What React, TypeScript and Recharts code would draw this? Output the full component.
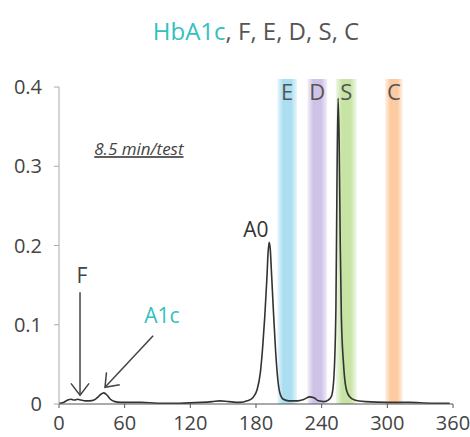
import React from "react";
import {
  LineChart, Line, XAxis, YAxis, ReferenceArea, ReferenceLine, ReferenceDot,
} from "recharts";

// retention time (s) and absorbance
const times = [
  0, 4, 8, 11, 14, 17, 20, 24, 28, 32, 35, 38, 41, 44, 47, 51, 56, 65, 75, 90,
  110, 130, 140, 147, 155, 165, 172, 177, 181, 184, 186, 188, 190, 191, 192, 193,
  194, 196, 198, 200, 202, 205, 210, 218, 224, 229, 233, 237, 242, 246, 249, 251,
  253, 254, 255, 256, 257, 258, 260, 262, 265, 270, 280, 300, 320, 340, 357,
];
const absorbance = [
  0.001, 0.002, 0.005, 0.006, 0.005, 0.006, 0.005, 0.004, 0.004, 0.005, 0.008, 0.012, 0.014, 0.011, 0.006, 0.003, 0.002, 0.002, 0.002, 0.001,
  0.001, 0.002, 0.003, 0.004, 0.003, 0.002, 0.004, 0.008, 0.018, 0.04, 0.07, 0.11, 0.16, 0.19, 0.204, 0.196,
  0.17, 0.115, 0.065, 0.03, 0.013, 0.006, 0.004, 0.004, 0.006, 0.009, 0.008, 0.004, 0.003, 0.005, 0.01, 0.03,
  0.12, 0.28, 0.386, 0.33, 0.2, 0.11, 0.05, 0.022, 0.01, 0.005, 0.003, 0.002, 0.002, 0.001, 0.001,
];

const xTicks = [0, 60, 120, 180, 240, 300, 360];
const yTicks = [0, 0.1, 0.2, 0.3, 0.4];

// variant windows
const bandNames = ["E", "D", "S", "C"];
const bandStart = [199.5, 227, 253, 298];
const bandEnd = [217.5, 245, 272, 314];
const bandColors = ["#a6dcf0", "#cdbfe6", "#c4e2a0", "#fdc89c"];

const TEAL = "#33c0c0";
const INK = "#444";

const chartData = times.map((t, i) => ({ t, v: absorbance[i] }));

function Arrow(props: any) {
  const { x1, y1, x2, y2 } = props;
  const a = Math.atan2(y2 - y1, x2 - x1);
  const len = 15;
  const spread = 0.65;
  const hx1 = x2 - len * Math.cos(a - spread);
  const hy1 = y2 - len * Math.sin(a - spread);
  const hx2 = x2 - len * Math.cos(a + spread);
  const hy2 = y2 - len * Math.sin(a + spread);
  return (
    <g stroke={INK} strokeWidth={1.5} fill="none">
      <line x1={x1} y1={y1} x2={x2} y2={y2} />
      <polyline points={`${hx1},${hy1} ${x2},${y2} ${hx2},${hy2}`} />
    </g>
  );
}

const textAt = (value: string, fill: string, size: number, extra: any = {}) => (p: any) => (
  <text x={p.cx} y={p.cy} textAnchor="middle" fill={fill} fontSize={size} {...extra}>
    {value}
  </text>
);

export default function App() {
  return (
    <div style={{ position: "absolute", left: 0, top: 0, width: 470, height: 437, fontFamily: "'Open Sans', sans-serif", background: "#fff" }}>
      <div style={{ position: "absolute", left: 59, top: 19, width: 394, textAlign: "center", fontSize: 24, lineHeight: "24px", color: "#555" }}>
        <span style={{ color: TEAL }}>HbA1c</span>, F, E, D, S, C
      </div>
      <LineChart width={470} height={437} data={chartData} margin={{ top: 87, right: 17, bottom: 3, left: 0 }}>
        <defs>
          {bandColors.map((c, i) => (
            <linearGradient key={i} id={`band${i}`} x1="0" y1="0" x2="1" y2="0">
              <stop offset="0%" stopColor={c} stopOpacity={0.25} />
              <stop offset="30%" stopColor={c} stopOpacity={0.95} />
              <stop offset="70%" stopColor={c} stopOpacity={0.95} />
              <stop offset="100%" stopColor={c} stopOpacity={0.25} />
            </linearGradient>
          ))}
        </defs>
        <XAxis
          dataKey="t"
          type="number"
          domain={[0, 360]}
          ticks={xTicks}
          interval={0}
          tickSize={4}
          tickMargin={8}
          stroke="#555"
          tick={{ fontSize: 20, fill: INK }}
          height={30}
        />
        <YAxis
          type="number"
          domain={[0, 0.4]}
          ticks={yTicks}
          interval={0}
          tickSize={5}
          tickMargin={12}
          stroke="#aaa"
          tick={{ fontSize: 20, fill: INK }}
          width={59}
        />
        {bandNames.map((n, i) => (
          <ReferenceArea
            key={n}
            x1={bandStart[i]}
            x2={bandEnd[i]}
            y1={0}
            y2={0.41}
            ifOverflow="visible"
            fill={`url(#band${i})`}
            fillOpacity={1}
            stroke="none"
            label={{ value: n, position: "insideTop", fill: "#555", fontSize: 22 }}
          />
        ))}
        <Line
          type="monotone"
          dataKey="v"
          stroke="#333"
          strokeWidth={1.6}
          dot={false}
          isAnimationActive={false}
        />
        <ReferenceLine segment={[{ x: 19.2, y: 0.141 }, { x: 19.2, y: 0.011 }]} shape={Arrow} ifOverflow="visible" />
        <ReferenceLine segment={[{ x: 86, y: 0.086 }, { x: 42, y: 0.021 }]} shape={Arrow} ifOverflow="visible" />
        <ReferenceDot x={21} y={0.153} shape={textAt("F", INK, 21)} ifOverflow="visible" />
        <ReferenceDot x={94} y={0.102} shape={textAt("A1c", TEAL, 21)} ifOverflow="visible" />
        <ReferenceDot x={180} y={0.211} shape={textAt("A0", "#333", 21)} ifOverflow="visible" />
        <ReferenceDot
          x={73}
          y={0.314}
          shape={textAt("8.5 min/test", INK, 17, { fontStyle: "italic", textDecoration: "underline" })}
          ifOverflow="visible"
        />
      </LineChart>
    </div>
  );
}
